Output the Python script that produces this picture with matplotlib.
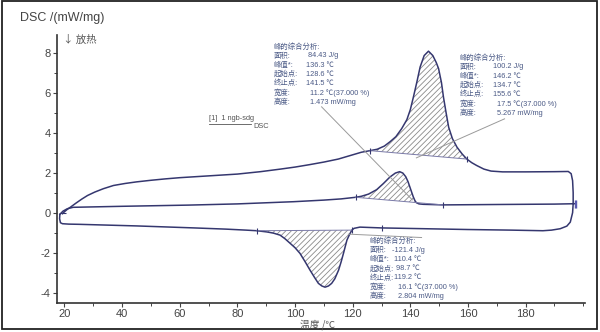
import matplotlib
matplotlib.use("Agg")
import matplotlib.pyplot as plt
from matplotlib.patches import Rectangle
from matplotlib.ticker import MultipleLocator
import numpy as np

plt.rcParams['font.family'] = ['Liberation Sans', 'Noto Sans CJK SC', 'DejaVu Sans']
plt.rcParams['axes.unicode_minus'] = False
plt.rcParams['hatch.color'] = '#8a8a8a'
plt.rcParams['hatch.linewidth'] = 0.6

# first heating (upper curve)
heat1_t = [19.3, 20.0, 21.0, 22.0, 24.0, 26.0, 28.0, 30.5, 33.5, 37, 41, 45, 50, 55, 60,
           70, 80, 88, 95, 100, 105, 110, 115, 119, 123, 126, 128.5, 131, 133, 135, 137,
           138.8, 140, 141.1, 142.3, 143.4, 144.8, 146.3, 147.8, 149, 149.8, 150.8, 151.5,
           152.4, 153.3, 154.6, 156.2, 158, 159.6, 161.3, 163, 165.5, 168, 172, 180, 190,
           194.8, 195.8, 196.3, 196.5, 196.5]
heat1_dsc = [-0.05, 0.05, 0.17, 0.27, 0.48, 0.68, 0.86, 1.03, 1.2, 1.36, 1.46, 1.54, 1.62,
             1.69, 1.75, 1.84, 1.93, 2.05, 2.18, 2.28, 2.4, 2.53, 2.68, 2.85, 3.02, 3.1,
             3.17, 3.33, 3.55, 3.8, 4.2, 4.65, 5.15, 5.8, 6.55, 7.28, 7.85, 8.07, 7.85, 7.5,
             7.2, 6.5, 5.77, 5.0, 4.27, 3.7, 3.27, 2.93, 2.68, 2.5, 2.36, 2.18, 2.08, 2.04,
             2.04, 2.05, 2.06, 1.95, 1.6, 1.0, 0.45]

# cooling (lower curve), right to left
cool_t = [196.5, 196.3, 195.5, 194.3, 192, 189, 186, 175, 160, 145, 130, 122.5, 120.5,
          119.7, 118.7, 118, 116.8, 116.0, 115.1, 113.8, 112.7, 111.6, 110.4, 109.3, 108.1,
          106.7, 105.2, 103.5, 101.7, 100, 98.3, 96.5, 94.8, 92.5, 90.2, 86.7, 83, 76, 65,
          55, 45, 35, 25, 21.5, 19.3, 18.6, 18.3, 18.4]
cool_dsc = [0.45, 0.0, -0.47, -0.67, -0.8, -0.87, -0.9, -0.87, -0.84, -0.8, -0.76, -0.72,
            -0.78, -0.87, -1.15, -1.37, -2.03, -2.45, -2.87, -3.3, -3.53, -3.66, -3.72,
            -3.66, -3.53, -3.22, -2.87, -2.45, -2.03, -1.75, -1.53, -1.3, -1.12, -1.02,
            -0.96, -0.9, -0.87, -0.82, -0.76, -0.71, -0.66, -0.62, -0.58, -0.57, -0.55,
            -0.5, -0.3, -0.08]

# second heating (middle curve)
heat2_t = [18.4, 19.5, 21, 23, 40, 63, 80, 99.5, 110, 116, 121, 123, 125.5, 128.3, 130.6,
           132.9, 134.8, 136.3, 137.4, 138.4, 139.2, 139.8, 140.4, 141, 141.6, 142.1, 143,
           144.5, 151.4, 170, 190, 197.4]
heat2_dsc = [-0.08, 0.08, 0.2, 0.27, 0.32, 0.38, 0.44, 0.55, 0.63, 0.69, 0.77, 0.82, 0.93,
             1.15, 1.45, 1.78, 1.98, 2.05, 1.98, 1.8, 1.55, 1.3, 1.05, 0.8, 0.6, 0.5, 0.44,
             0.42, 0.39, 0.41, 0.43, 0.45]

# integration limits of the three evaluated peaks
peak1_lim = (121, 151.4)    # second heating
peak2_lim = (126, 159.6)    # first heating
peak3_lim = (86.7, 119.7)   # cooling

label_rows = ['峰的综合分析:', '面积:', '峰值*:', '起始点:', '终止点:', '宽度:', '高度:']
peak1_vals = [' 84.43 J/g', '136.3 ℃', '128.6 ℃', '141.5 ℃', '  11.2 ℃(37.000 %)', '  1.473 mW/mg']
peak2_vals = ['100.2 J/g', '146.2 ℃', '134.7 ℃', '155.6 ℃', '  17.5 ℃(37.000 %)', '  5.267 mW/mg']
peak3_vals = ['-121.4 J/g', ' 110.4 ℃', '  98.7 ℃', ' 119.2 ℃', '   16.1 ℃(37.000 %)', '   2.804 mW/mg']

line_c = '#35376f'
text_c = '#4b5a86'
axis_c = '#444444'

fig = plt.figure(figsize=(6.0, 3.32), dpi=100)
ax = fig.add_axes([0.0945, 0.088, 0.88, 0.807])

ax.plot(heat1_t, heat1_dsc, color=line_c, lw=1.1)
ax.plot(cool_t, cool_dsc, color=line_c, lw=1.1)
ax.plot(heat2_t, heat2_dsc, color=line_c, lw=1.1)


def hatch_peak(t, y, lim):
    t = np.asarray(t)
    y = np.asarray(y)
    m = (t >= min(lim)) & (t <= max(lim))
    xs, ys = t[m], y[m]
    ax.fill(np.r_[xs, xs[0]], np.r_[ys, ys[0]], facecolor='none',
            edgecolor='#8a8a8a', hatch='//////', lw=0)
    ax.plot([xs[0], xs[-1]], [ys[0], ys[-1]], color='#7a7aa8', lw=0.7)
    ax.plot([xs[0], xs[-1]], [ys[0], ys[-1]], ls='none', marker='|',
            ms=5, color=line_c, mew=0.8)


hatch_peak(heat2_t, heat2_dsc, peak1_lim)
hatch_peak(heat1_t, heat1_dsc, peak2_lim)
hatch_peak(cool_t, cool_dsc, peak3_lim)
ax.plot([197.2, 197.5], [0.45, 0.45], ls='none', marker='|', ms=6, color='#5a5ab0')
ax.plot([130], [-0.76], ls='none', marker='|', ms=5, color=line_c, mew=0.8)
ax.plot([19.6], [0.0], ls='none', marker='_', ms=5, color=line_c, mew=0.8)

# leader lines
ax.plot([109.2, 140.7], [5.29, 0.64], color='#9a9a9a', lw=0.7)
ax.plot([172.7, 142.1], [4.69, 2.74], color='#9a9a9a', lw=0.7)
ax.plot([118.5, 143.9], [-1.07, -1.24], color='#9a9a9a', lw=0.7)


def write_block(x_lab, x_val, y_top, vals):
    step = 0.46
    for i, lab in enumerate(label_rows):
        ax.text(x_lab, y_top - i * step, lab, fontsize=5.3, color=text_c,
                va='center', ha='left')
    for i, v in enumerate(vals):
        ax.text(x_val, y_top - (i + 1) * step, v, fontsize=5.3, color=text_c,
                va='center', ha='left')


write_block(92.5, 103.8, 8.29, peak1_vals)
write_block(157.0, 168.6, 7.74, peak2_vals)
write_block(125.8, 133.6, -1.42, peak3_vals)

# curve legend
ax.text(70.3, 4.73, '[1]  1 ngb-sdg', fontsize=5.3, color='#555555', va='center')
ax.plot([70.3, 84.8], [4.42, 4.42], color='#555555', lw=0.6)
ax.text(85.6, 4.33, 'DSC', fontsize=5.3, color='#555555', va='center')

ax.set_xlim(17.3, 200.5)
ax.set_ylim(-4.5, 8.885)
ax.xaxis.set_minor_locator(MultipleLocator(10))
ax.yaxis.set_minor_locator(MultipleLocator(1))
ax.set_xticks([20, 40, 60, 80, 100, 120, 140, 160, 180])
ax.set_yticks([-4, -2, 0, 2, 4, 6, 8])
for s in ['top', 'right']:
    ax.spines[s].set_visible(False)
for s in ['left', 'bottom']:
    ax.spines[s].set_color('#333333')
    ax.spines[s].set_linewidth(1.2)
ax.tick_params(which='major', direction='out', length=3, width=0.8,
               colors=axis_c, labelsize=8, pad=1.5)
ax.tick_params(which='minor', direction='out', length=2, width=0.7, colors=axis_c)

fig.text(0.033, 0.945, 'DSC /(mW/mg)', fontsize=9, color='#444444', va='center')
fig.text(0.105, 0.88, '↓ 放热', fontsize=7.5, color='#555555', va='center',
         family=['Noto Sans CJK SC', 'DejaVu Sans'])
fig.text(0.53, 0.022, '温度 /℃', fontsize=7, color='#555555', va='center', ha='center',
         family=['Noto Sans CJK SC', 'DejaVu Sans'])

fig.patches.append(Rectangle((0.003, 0.008), 0.992, 0.988, transform=fig.transFigure,
                             fill=False, edgecolor='#222222', lw=1.3))

fig.savefig('out.png', dpi=100)
